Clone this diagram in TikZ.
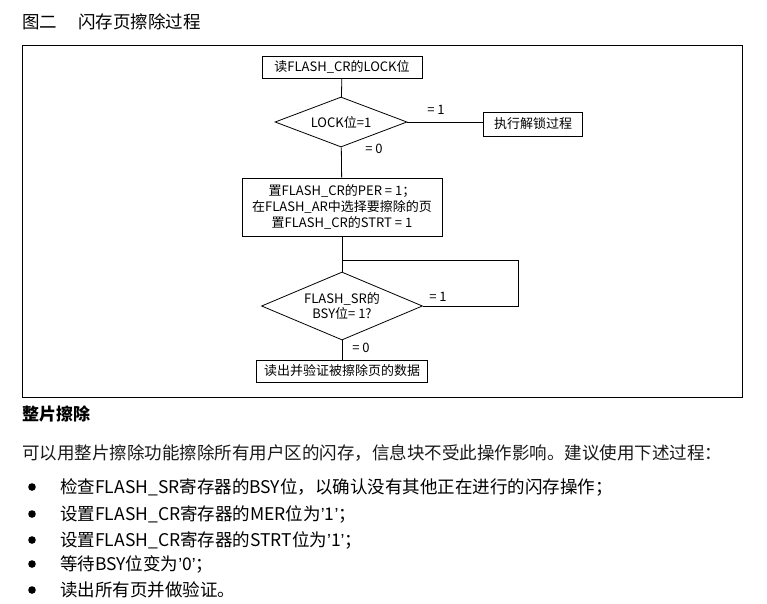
\documentclass[tikz,border=0pt]{standalone}
\usepackage{fontspec}
\setmainfont{Noto Sans CJK SC}
\newfontfamily\lat{Liberation Sans}
\newcommand{\q}{{\lat ’}}
\usetikzlibrary{shapes.geometric}
\begin{document}
\begin{tikzpicture}[x=1pt,y=-1pt,
  ln/.style={draw=black,line width=0.8pt},
  bx/.style={ln,rectangle,inner sep=0pt,font=\fontsize{13}{15}\selectfont,align=center},
  lbl/.style={font=\fontsize{13}{15}\selectfont},
  body/.style={anchor=west,font=\fontsize{17.5}{19}\selectfont,text=black!90,inner sep=0pt}]
\useasboundingbox (0,0) rectangle (767,603);
\node[body,text=black] (title) at (22,22) {图二\hspace{1.2em}闪存页擦除过程};
\draw[line width=0.8pt] (22,45) rectangle (742,397);
\node[bx,minimum width=160,minimum height=22] (b1) at (342,67) {读FLASH\_CR的LOCK位};
\node[ln,diamond,aspect=2.64,minimum width=132,minimum height=50,inner sep=0pt,lbl] (d1) at (341,122) {LOCK位=1};
\node[bx,minimum width=99,minimum height=24] (ul) at (533,124) {执行解锁过程};
\node[bx,minimum width=200,minimum height=58,font=\fontsize{13}{16}\selectfont] (b2) at (342,207) {置FLASH\_CR的PER = 1；\\在FLASH\_AR中选择要擦除的页\\置FLASH\_CR的STRT = 1};
\node[ln,diamond,aspect=2.37,minimum width=161,minimum height=68,inner sep=0pt,lbl,align=center] (d2) at (342,306) {FLASH\_SR的\\BSY位= 1?};
\node[bx,minimum width=171,minimum height=22] (b3) at (342,371) {读出并验证被擦除页的数据};
\coordinate (j) at (342,260);
\coordinate (r1) at (518,260);
\coordinate (r2) at (518,306);
\draw[line width=0.8pt] (b1) -- (d1);
\draw[line width=0.8pt] (d1.east) -- (ul.west |- d1.east);
\draw[line width=0.8pt] (d1) -- (b2);
\draw[line width=0.8pt] (b2) -- (d2);
\draw[line width=0.8pt] (j) -- (r1) -- (r2) -- (d2.east);
\draw[line width=0.8pt] (d2) -- (b3);
\node[lbl] (e1) at (436,110) {= 1};
\node[lbl] (e0) at (374,149) {= 0};
\node[lbl] (f1) at (438,297) {= 1};
\node[lbl] (f0) at (361,348) {= 0};
\node[body,text=black,font=\bfseries\fontsize{17}{19}\selectfont] (h) at (22,414) {整片擦除};
\node[body] (p) at (22,453) {可以用整片擦除功能擦除所有用户区的闪存，信息块不受此操作影响。建议使用下述过程：};
\foreach \y/\t [count=\i] in {487/检查FLASH\_SR寄存器的BSY位，以确认没有其他正在进行的闪存操作；,
  514/设置FLASH\_CR寄存器的MER位为\q1\q；,
  540/设置FLASH\_CR寄存器的STRT位为\q1\q；,
  564/等待BSY位变为\q0\q；,
  590/读出所有页并做验证。}{
  \fill[black] (32,\y) circle (3.8) node[body,text=black] (t\i) at (60,\y) {\t};
}
\end{tikzpicture}
\end{document}
